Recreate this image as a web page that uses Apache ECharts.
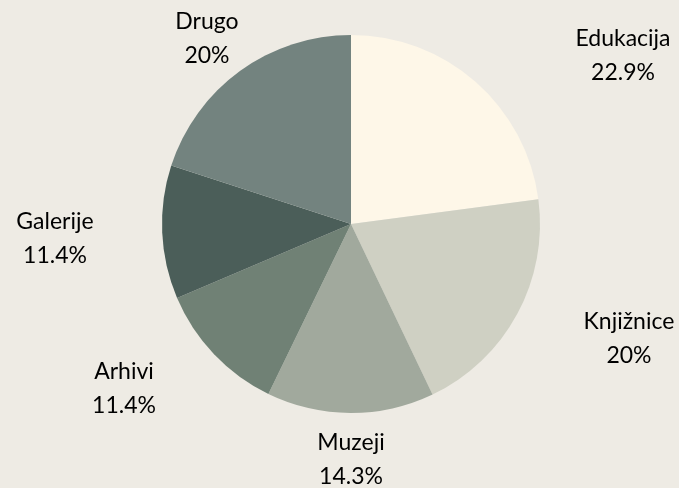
<!DOCTYPE html>
<html>
<head>
<meta charset="utf-8">
<script src="https://cdn.jsdelivr.net/npm/echarts@6/dist/echarts.min.js"></script>
<style>
  html, body { margin: 0; padding: 0; background: #EEEBE4; }
  #chart { width: 679px; height: 488px; }
</style>
</head>
<body>
<div id="chart"></div>
<script>
// share of institutions by type (%)
const categories = ['Edukacija', 'Knjižnice', 'Muzeji', 'Arhivi', 'Galerije', 'Drugo'];
const shares = [22.9, 20, 14.3, 11.4, 11.4, 20];
const sliceColors = ['#FEF7E8', '#CFD0C3', '#A1A99D', '#708175', '#4B5E59', '#73837F'];

// label centre, offset from pie centre (px) - placed like the original
const labelOffsets = [[272, -168], [278, 115], [0, 236], [-227, 165], [-296, 15], [-144, -185]];
const pieCenter = [351, 224];

const chart = echarts.init(document.getElementById('chart'));

chart.setOption({
  backgroundColor: '#EEEBE4',
  animation: false,
  series: [
    {
      type: 'pie',
      center: pieCenter,
      radius: 189,
      startAngle: 90,
      clockwise: true,
      label: {
        show: true,
        position: 'outside',
        formatter: p => p.name + '\n' + p.value + '%',
        fontFamily: 'Lato',
        fontSize: 23,
        lineHeight: 34,
        color: '#000',
        align: 'center'
      },
      labelLine: { show: false },
      labelLayout: params => {
        const off = labelOffsets[params.dataIndex];
        return {
          x: pieCenter[0] + off[0],
          y: pieCenter[1] + off[1],
          align: 'center',
          verticalAlign: 'middle'
        };
      },
      emphasis: { disabled: true },
      data: categories.map((name, i) => ({
        name: name,
        value: shares[i],
        itemStyle: { color: sliceColors[i] }
      }))
    }
  ]
});
</script>
</body>
</html>
